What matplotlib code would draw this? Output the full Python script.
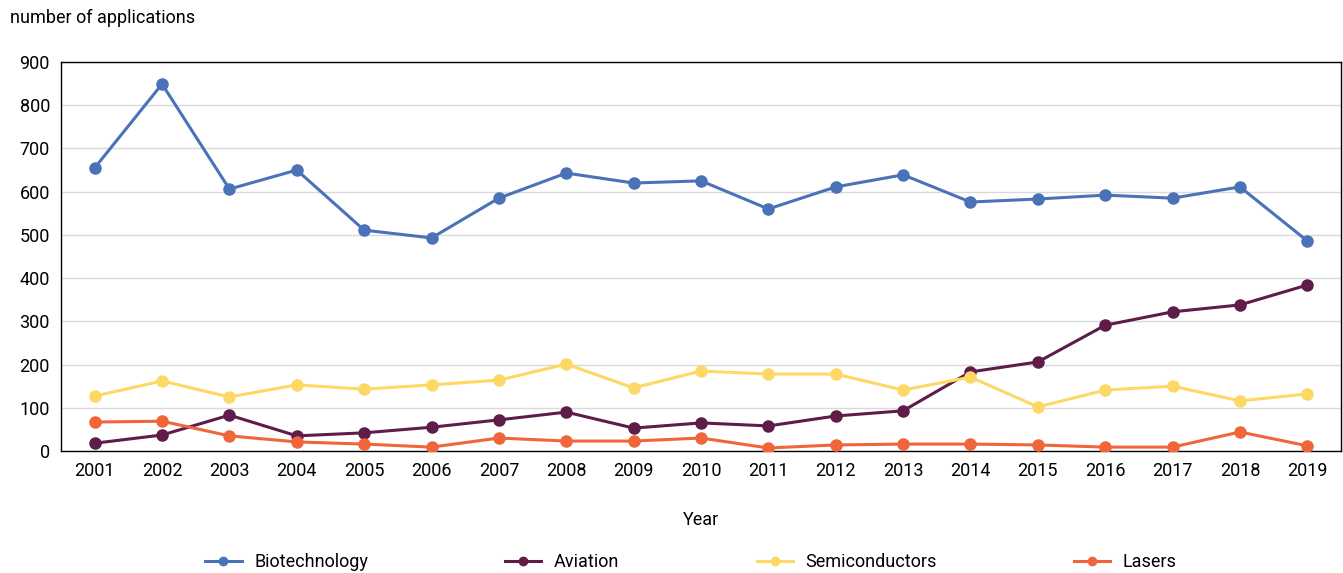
import matplotlib
matplotlib.use("Agg")
import matplotlib.pyplot as plt
from matplotlib import font_manager

years = [str(y) for y in range(2001, 2020)]
biotech = [655, 849, 606, 650, 511, 493, 585, 643, 620, 625, 560, 611, 639, 576, 583, 592, 585, 611, 486]
aviation = [18, 37, 83, 35, 42, 55, 72, 90, 53, 65, 58, 81, 93, 183, 206, 291, 322, 338, 384]
semis = [127, 162, 125, 153, 143, 153, 164, 201, 146, 185, 178, 178, 141, 171, 102, 141, 150, 116, 132]
lasers = [67, 69, 35, 21, 16, 9, 30, 23, 23, 30, 7, 14, 16, 16, 14, 9, 9, 44, 12]

series = [("Biotechnology", biotech, "#4a72b8"),
          ("Aviation", aviation, "#5e1c49"),
          ("Semiconductors", semis, "#fdd865"),
          ("Lasers", lasers, "#f0663a")]

names = {f.name for f in font_manager.fontManager.ttflist}
fam = "Liberation Sans Narrow" if "Liberation Sans Narrow" in names else "Roboto"
plt.rcParams['font.family'] = [fam, 'DejaVu Sans']

fig = plt.figure(figsize=(13.43, 5.73), dpi=100)
ax = fig.add_axes([61/1343, 1-451/573, 1280/1343, 389/573])

x = list(range(len(years)))
for name, vals, col in series:
    ax.plot(x, vals, color=col, lw=2.2, marker='o', ms=8, label=name, zorder=3)

ax.set_xlim(-0.5, len(years)-0.5)
ax.set_ylim(0, 900)
ax.set_yticks(range(0, 901, 100))
ax.set_xticks(x)
ax.set_xticklabels(years)
ax.tick_params(axis='both', length=0, labelsize=13, colors='#000000', pad=8)
ax.grid(axis='y', color='#d9d9d9', lw=1.0, zorder=0)
for s in ax.spines.values():
    s.set_color('#000000')
    s.set_linewidth(1.0)

ax.set_xlabel("Year", fontsize=13, labelpad=22)
fig.text(10/1343, 1-18/573, "number of applications", fontsize=13, va='center', ha='left')

leg = fig.legend(loc='center', bbox_to_anchor=(691/1343, 1-562/573), ncol=4, frameon=False,
                 fontsize=13, columnspacing=7.6, handlelength=2.0, handletextpad=0.7,
                 markerscale=0.75)

fig.savefig("out.png", dpi=100)
